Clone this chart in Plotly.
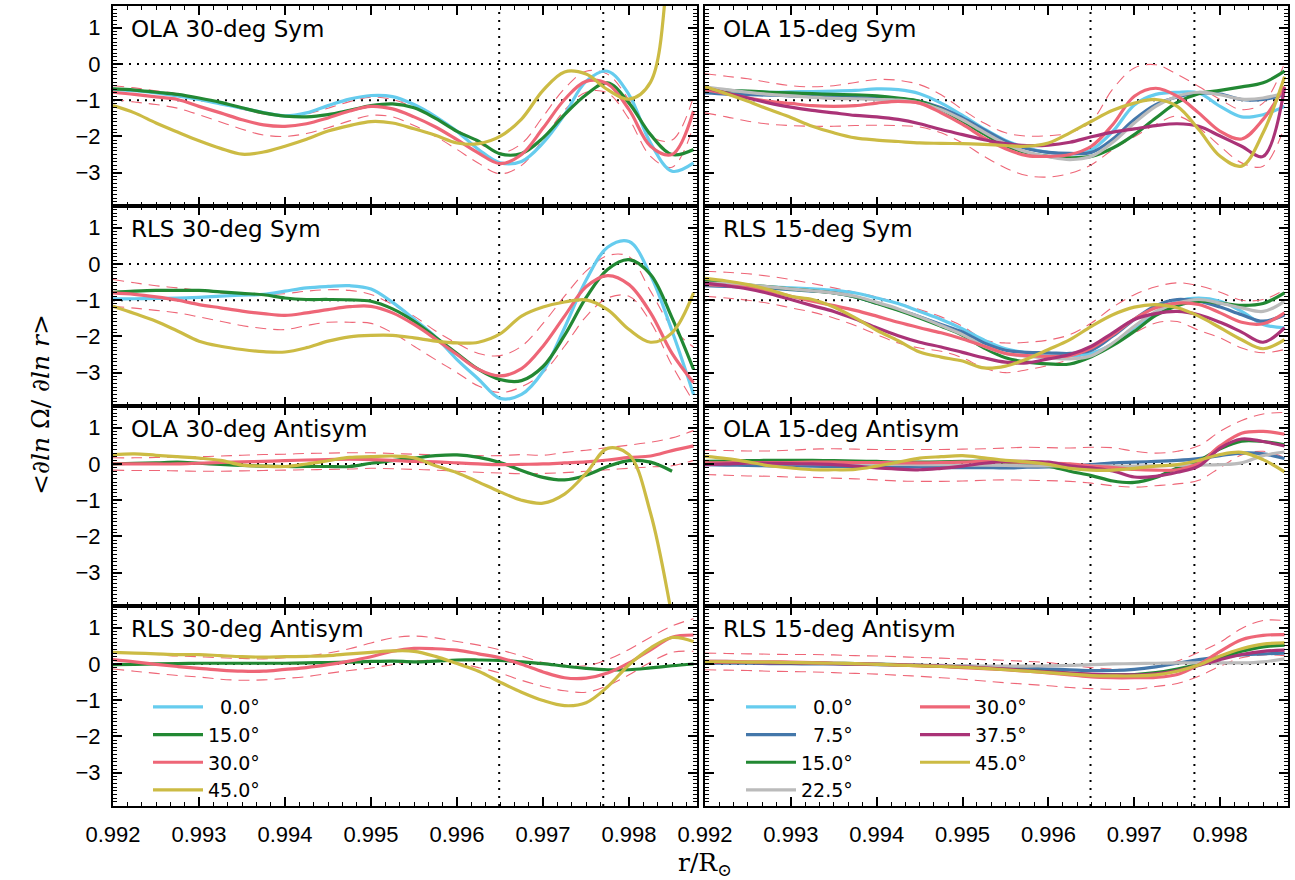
import plotly.graph_objects as go

# ---------------- radius grid (r / R_sun) ----------------
R = [0.99200, 0.99225, 0.99250, 0.99275, 0.99300, 0.99325, 0.99350, 0.99375,
     0.99400, 0.99425, 0.99450, 0.99475, 0.99500, 0.99525, 0.99550, 0.99575,
     0.99600, 0.99625, 0.99650, 0.99675, 0.99700, 0.99725, 0.99750, 0.99775,
     0.99800, 0.99825, 0.99850, 0.99875]

# ---------------- OLA 30-deg Sym ----------------
ola30s_00 = [-0.70,-0.74,-0.80,-0.88,-0.98,-1.10,-1.22,-1.34,-1.43,-1.35,-1.15,-0.97,-0.87,-0.90,-1.12,-1.45,-1.86,-2.36,-2.73,-2.69,-2.18,-1.40,-0.48,-0.20,-0.85,-2.18,-2.96,-2.73]
ola30s_15 = [-0.69,-0.72,-0.78,-0.84,-0.94,-1.06,-1.21,-1.35,-1.44,-1.46,-1.40,-1.28,-1.15,-1.10,-1.21,-1.50,-1.86,-2.13,-2.48,-2.47,-2.04,-1.40,-0.85,-0.52,-1.08,-1.95,-2.50,-2.36]
ola30s_30 = [-0.78,-0.84,-0.91,-0.98,-1.17,-1.35,-1.54,-1.68,-1.72,-1.65,-1.49,-1.30,-1.17,-1.24,-1.46,-1.74,-2.09,-2.46,-2.75,-2.50,-1.77,-0.98,-0.48,-0.55,-1.26,-2.27,-2.50,-1.30]
ola30s_45 = [-1.15,-1.35,-1.63,-1.88,-2.12,-2.33,-2.49,-2.43,-2.27,-2.08,-1.85,-1.70,-1.59,-1.63,-1.79,-1.97,-2.18,-2.20,-2.00,-1.52,-0.73,-0.22,-0.28,-0.71,-0.97,-0.50,3.50,6.00]
ola30s_hi = [-0.60,-0.66,-0.74,-0.82,-0.95,-1.10,-1.25,-1.38,-1.44,-1.38,-1.22,-1.04,-0.92,-0.98,-1.20,-1.50,-1.82,-2.18,-2.45,-2.20,-1.45,-0.68,-0.20,-0.28,-1.00,-2.00,-2.10,-0.90]
ola30s_lo = [-0.98,-1.05,-1.12,-1.22,-1.40,-1.60,-1.80,-1.96,-2.00,-1.92,-1.76,-1.57,-1.42,-1.46,-1.70,-2.00,-2.36,-2.74,-3.03,-2.80,-2.08,-1.28,-0.78,-0.80,-1.52,-2.55,-2.85,-1.70]

# ---------------- RLS 30-deg Sym ----------------
rls30s_00 = [-0.96,-0.96,-0.95,-0.94,-0.92,-0.89,-0.86,-0.84,-0.75,-0.66,-0.62,-0.60,-0.69,-1.06,-1.52,-2.01,-2.64,-3.18,-3.71,-3.60,-2.96,-1.76,-0.45,0.46,0.62,-0.31,-1.85,-3.60]
rls30s_15 = [-0.78,-0.75,-0.73,-0.73,-0.73,-0.77,-0.81,-0.85,-0.94,-0.98,-0.98,-0.99,-1.03,-1.24,-1.58,-2.02,-2.47,-2.91,-3.19,-3.22,-2.83,-1.97,-0.93,-0.15,0.12,-0.29,-1.49,-2.91]
rls30s_30 = [-0.80,-0.84,-0.91,-1.00,-1.12,-1.21,-1.30,-1.37,-1.42,-1.35,-1.26,-1.18,-1.17,-1.35,-1.67,-2.07,-2.50,-2.91,-3.09,-2.89,-2.27,-1.44,-0.63,-0.32,-0.57,-1.35,-2.47,-3.28]
rls30s_45 = [-1.17,-1.37,-1.58,-1.85,-2.13,-2.27,-2.36,-2.42,-2.43,-2.31,-2.13,-2.01,-1.97,-1.97,-2.04,-2.13,-2.18,-2.16,-1.93,-1.44,-1.19,-1.05,-0.99,-1.26,-1.81,-2.16,-1.90,-0.80]
rls30s_hi = [-0.43,-0.52,-0.60,-0.66,-0.73,-0.80,-0.84,-0.84,-0.82,-0.75,-0.71,-0.73,-0.84,-1.12,-1.44,-1.85,-2.19,-2.47,-2.53,-2.27,-1.64,-0.89,-0.20,0.23,0.20,-0.75,-1.75,-2.30]
rls30s_lo = [-1.17,-1.22,-1.28,-1.35,-1.46,-1.58,-1.70,-1.78,-1.81,-1.70,-1.61,-1.61,-1.64,-1.90,-2.27,-2.64,-3.00,-3.37,-3.55,-3.39,-3.00,-2.27,-1.45,-0.94,-0.89,-1.60,-2.80,-3.80]

# ---------------- OLA 30-deg Antisym ----------------
ola30a_15 = [0.00,0.02,0.03,0.05,0.02,-0.01,-0.04,-0.06,-0.07,-0.07,-0.07,-0.07,0.02,0.09,0.16,0.23,0.25,0.18,0.04,-0.18,-0.37,-0.44,-0.31,-0.07,0.09,0.05,-0.20,None]
ola30a_30 = [0.00,0.00,0.00,0.00,0.02,0.04,0.06,0.07,0.09,0.11,0.12,0.13,0.12,0.10,0.07,0.06,0.03,0.00,-0.02,-0.01,0.00,0.03,0.06,0.11,0.18,0.22,0.37,0.50]
ola30a_45 = [0.26,0.28,0.24,0.20,0.16,0.10,-0.03,-0.06,-0.07,0.00,0.09,0.18,0.20,0.22,0.17,-0.05,-0.24,-0.50,-0.77,-1.00,-1.08,-0.83,-0.26,0.43,0.26,-1.36,-4.20,-7.50]
ola30a_hi = [0.17,0.17,0.18,0.19,0.20,0.22,0.24,0.26,0.27,0.29,0.30,0.31,0.31,0.29,0.27,0.25,0.24,0.23,0.23,0.26,0.24,0.32,0.38,0.45,0.52,0.60,0.72,0.92]
ola30a_lo = [-0.17,-0.18,-0.18,-0.19,-0.20,-0.20,-0.19,-0.18,-0.17,-0.16,-0.15,-0.14,-0.12,-0.13,-0.15,-0.17,-0.20,-0.23,-0.25,-0.27,-0.26,-0.24,-0.20,-0.16,-0.12,-0.08,-0.05,0.10]

# ---------------- RLS 30-deg Antisym ----------------
rls30a_15 = [-0.02,-0.01,0.00,0.01,0.02,0.02,0.02,0.02,0.02,0.03,0.04,0.05,0.07,0.08,0.06,0.08,0.11,0.11,0.10,0.06,0.01,-0.06,-0.12,-0.16,-0.16,-0.11,-0.05,0.00]
rls30a_30 = [0.12,0.06,-0.01,-0.07,-0.12,-0.17,-0.20,-0.20,-0.15,-0.10,-0.02,0.08,0.20,0.35,0.43,0.42,0.38,0.28,0.17,-0.01,-0.22,-0.38,-0.39,-0.25,0.03,0.39,0.74,0.80]
rls30a_45 = [0.32,0.30,0.28,0.26,0.26,0.23,0.20,0.19,0.20,0.21,0.23,0.28,0.32,0.36,0.35,0.21,0.01,-0.20,-0.50,-0.78,-1.01,-1.15,-1.07,-0.63,-0.02,0.44,0.73,0.62]
rls30a_hi = [0.32,0.30,0.26,0.22,0.20,0.17,0.15,0.14,0.17,0.22,0.30,0.42,0.58,0.72,0.77,0.72,0.62,0.52,0.39,0.22,0.04,-0.04,-0.05,0.12,0.40,0.74,1.05,1.25]
rls30a_lo = [-0.14,-0.20,-0.26,-0.32,-0.36,-0.42,-0.45,-0.44,-0.40,-0.35,-0.26,-0.18,-0.11,-0.02,0.08,0.10,0.03,-0.10,-0.25,-0.45,-0.62,-0.74,-0.78,-0.60,-0.30,0.05,0.32,0.35]

# ---------------- OLA 15-deg Sym ----------------
ola15s_00 = [-0.69,-0.73,-0.76,-0.78,-0.77,-0.76,-0.75,-0.73,-0.69,-0.71,-0.82,-1.08,-1.42,-1.79,-2.11,-2.32,-2.44,-2.49,-2.37,-1.86,-1.13,-0.84,-0.78,-0.80,-1.17,-1.46,-1.40,-1.17]
ola15s_07 = [-0.80,-0.83,-0.85,-0.86,-0.88,-0.90,-0.92,-0.93,-0.94,-0.96,-1.03,-1.21,-1.49,-1.81,-2.13,-2.34,-2.44,-2.47,-2.44,-2.07,-1.53,-1.12,-0.91,-0.80,-0.83,-0.98,-0.98,-0.85]
ola15s_15 = [-0.71,-0.73,-0.75,-0.78,-0.80,-0.82,-0.84,-0.85,-0.88,-0.94,-1.03,-1.26,-1.58,-1.93,-2.25,-2.45,-2.55,-2.59,-2.55,-2.32,-1.95,-1.49,-1.06,-0.82,-0.73,-0.63,-0.52,-0.20]
ola15s_22 = [-0.63,-0.71,-0.78,-0.84,-0.88,-0.92,-0.95,-0.96,-0.98,-1.00,-1.08,-1.26,-1.54,-1.88,-2.20,-2.43,-2.56,-2.64,-2.55,-2.16,-1.63,-1.17,-0.89,-0.78,-0.85,-0.97,-0.94,-0.80]
ola15s_30 = [-0.71,-0.82,-0.94,-1.03,-1.09,-1.15,-1.17,-1.15,-1.08,-1.03,-1.08,-1.35,-1.67,-2.04,-2.34,-2.53,-2.55,-2.50,-2.27,-1.67,-0.89,-0.67,-0.89,-1.35,-1.86,-2.07,-1.53,-0.62]
ola15s_37 = [-0.66,-0.80,-0.94,-1.08,-1.19,-1.28,-1.35,-1.42,-1.46,-1.53,-1.65,-1.81,-1.95,-2.09,-2.20,-2.25,-2.24,-2.16,-2.01,-1.88,-1.79,-1.70,-1.65,-1.72,-1.99,-2.27,-2.55,-0.65]
ola15s_45 = [-0.63,-0.82,-1.03,-1.26,-1.48,-1.72,-1.90,-2.04,-2.10,-2.14,-2.18,-2.19,-2.20,-2.22,-2.25,-2.27,-2.18,-1.90,-1.58,-1.28,-1.08,-0.98,-1.17,-1.81,-2.55,-2.82,-1.90,-0.35]
ola15s_hi = [-0.27,-0.34,-0.41,-0.51,-0.60,-0.63,-0.60,-0.51,-0.43,-0.45,-0.57,-0.85,-1.26,-1.63,-1.90,-1.99,-1.98,-1.90,-1.58,-0.69,-0.11,-0.02,-0.29,-0.62,-0.98,-1.26,-1.08,0.03]
ola15s_lo = [-1.35,-1.46,-1.58,-1.66,-1.70,-1.72,-1.72,-1.70,-1.69,-1.70,-1.74,-1.90,-2.18,-2.55,-2.87,-3.08,-3.12,-3.02,-2.78,-2.36,-2.01,-1.67,-1.44,-1.76,-2.27,-2.73,-2.82,-1.72]

# ---------------- RLS 15-deg Sym ----------------
rls15s_00 = [-0.57,-0.59,-0.61,-0.63,-0.66,-0.69,-0.73,-0.80,-0.94,-1.09,-1.31,-1.53,-1.79,-2.10,-2.34,-2.45,-2.50,-2.53,-2.47,-2.20,-1.76,-1.35,-1.03,-0.94,-1.03,-1.31,-1.67,-1.76]
rls15s_07 = [-0.60,-0.62,-0.63,-0.67,-0.71,-0.75,-0.80,-0.91,-1.08,-1.26,-1.46,-1.67,-1.88,-2.18,-2.38,-2.44,-2.45,-2.47,-2.38,-1.99,-1.53,-1.15,-0.98,-1.03,-1.19,-1.40,-1.58,-1.40]
rls15s_15 = [-0.48,-0.52,-0.58,-0.63,-0.69,-0.74,-0.80,-0.91,-1.09,-1.28,-1.49,-1.72,-1.97,-2.32,-2.59,-2.71,-2.76,-2.76,-2.56,-2.25,-1.86,-1.42,-1.15,-1.03,-1.08,-1.14,-1.09,-0.80]
rls15s_22 = [-0.53,-0.54,-0.58,-0.63,-0.69,-0.74,-0.80,-0.89,-1.06,-1.24,-1.46,-1.70,-1.95,-2.27,-2.47,-2.55,-2.59,-2.62,-2.53,-2.18,-1.72,-1.31,-1.08,-0.98,-1.08,-1.21,-1.31,-1.03]
rls15s_30 = [-0.57,-0.60,-0.66,-0.75,-0.89,-1.03,-1.15,-1.28,-1.44,-1.61,-1.76,-1.90,-2.07,-2.27,-2.47,-2.53,-2.55,-2.53,-2.32,-1.95,-1.52,-1.21,-1.08,-1.12,-1.35,-1.61,-1.65,-1.35]
rls15s_37 = [-0.53,-0.60,-0.69,-0.82,-0.98,-1.15,-1.31,-1.52,-1.76,-1.98,-2.16,-2.29,-2.44,-2.59,-2.71,-2.73,-2.62,-2.50,-2.27,-1.90,-1.53,-1.37,-1.31,-1.40,-1.61,-1.88,-2.16,-1.76]
rls15s_45 = [-0.40,-0.47,-0.57,-0.71,-0.89,-0.98,-1.19,-1.49,-1.83,-2.12,-2.43,-2.57,-2.68,-2.87,-2.82,-2.62,-2.36,-2.09,-1.72,-1.40,-1.19,-1.12,-1.21,-1.44,-1.76,-2.09,-2.34,-2.09]
rls15s_hi = [-0.20,-0.23,-0.27,-0.34,-0.43,-0.54,-0.66,-0.78,-0.91,-1.08,-1.26,-1.46,-1.72,-2.09,-2.18,-2.16,-2.10,-1.95,-1.63,-1.19,-0.85,-0.63,-0.52,-0.60,-0.78,-1.00,-0.98,-0.71]
rls15s_lo = [-0.89,-0.94,-1.00,-1.09,-1.21,-1.33,-1.49,-1.70,-1.95,-2.18,-2.32,-2.41,-2.59,-2.87,-3.00,-2.92,-2.80,-2.64,-2.45,-2.20,-1.90,-1.63,-1.59,-1.83,-2.04,-2.32,-2.45,-2.36]

# ---------------- OLA 15-deg Antisym ----------------
ola15a_07 = [-0.02,-0.03,-0.04,-0.05,-0.05,-0.06,-0.07,-0.07,-0.08,-0.08,-0.08,-0.10,-0.10,-0.10,-0.11,-0.09,-0.08,-0.06,-0.02,0.03,0.05,0.07,0.10,0.15,0.23,0.30,0.28,0.15]
ola15a_15 = [0.07,0.08,0.09,0.10,0.10,0.10,0.09,0.08,0.07,0.05,0.05,0.06,0.07,0.08,0.05,0.01,-0.06,-0.20,-0.32,-0.47,-0.51,-0.37,-0.11,0.09,0.42,0.63,0.62,0.53]
ola15a_22 = [0.02,0.02,0.02,0.01,0.01,0.01,0.00,0.00,-0.01,-0.01,-0.02,-0.02,-0.03,-0.03,-0.04,-0.05,-0.05,-0.05,-0.05,-0.06,-0.06,-0.05,-0.04,-0.03,-0.02,0.03,0.23,0.33]
ola15a_30 = [0.03,0.03,0.04,0.04,0.04,0.05,0.05,0.04,0.04,0.03,0.03,0.04,0.05,0.07,0.06,0.04,0.02,0.00,-0.06,-0.10,-0.15,-0.17,-0.16,0.02,0.50,0.85,0.90,0.82]
ola15a_37 = [-0.02,0.00,0.02,0.02,0.01,0.00,-0.02,-0.06,-0.11,-0.14,-0.16,-0.12,-0.06,0.02,0.07,0.07,0.05,-0.05,-0.11,-0.19,-0.36,-0.34,-0.23,-0.06,0.44,0.69,0.62,0.50]
ola15a_45 = [0.21,0.15,0.06,-0.05,-0.11,-0.16,-0.16,-0.15,-0.06,0.05,0.16,0.20,0.23,0.17,0.10,0.06,-0.01,-0.12,-0.17,-0.17,-0.12,-0.06,-0.02,0.10,0.26,0.32,0.12,-0.22]
ola15a_hi = [0.38,0.37,0.36,0.36,0.38,0.41,0.42,0.41,0.40,0.40,0.40,0.40,0.41,0.42,0.44,0.46,0.45,0.44,0.46,0.45,0.35,0.30,0.35,0.50,0.90,1.20,1.38,1.42]
ola15a_lo = [-0.29,-0.31,-0.33,-0.34,-0.36,-0.37,-0.39,-0.41,-0.44,-0.47,-0.48,-0.48,-0.47,-0.45,-0.44,-0.45,-0.46,-0.48,-0.53,-0.60,-0.64,-0.60,-0.55,-0.45,-0.10,0.25,0.35,0.18]

# ---------------- RLS 15-deg Antisym ----------------
rls15a_07 = [0.02,0.02,0.02,0.01,0.01,0.00,0.00,-0.01,-0.02,-0.03,-0.04,-0.05,-0.06,-0.08,-0.10,-0.12,-0.14,-0.16,-0.18,-0.18,-0.15,-0.08,0.02,0.12,0.20,0.25,0.28,0.30]
rls15a_15 = [0.05,0.05,0.04,0.04,0.03,0.03,0.02,0.01,0.00,-0.02,-0.04,-0.06,-0.08,-0.11,-0.14,-0.18,-0.22,-0.26,-0.29,-0.30,-0.29,-0.24,-0.14,0.00,0.18,0.35,0.47,0.52]
rls15a_22 = [0.08,0.07,0.06,0.05,0.04,0.03,0.02,0.01,0.00,-0.02,-0.03,-0.04,-0.05,-0.06,-0.06,-0.06,-0.05,-0.04,-0.02,0.00,0.01,0.02,0.03,0.03,0.03,0.03,0.06,0.14]
rls15a_30 = [0.07,0.07,0.06,0.06,0.05,0.04,0.02,0.00,-0.01,-0.03,-0.05,-0.07,-0.10,-0.13,-0.16,-0.20,-0.25,-0.30,-0.36,-0.38,-0.38,-0.37,-0.29,-0.02,0.35,0.67,0.79,0.81]
rls15a_37 = [0.04,0.04,0.04,0.03,0.03,0.02,0.01,0.00,-0.01,-0.02,-0.04,-0.06,-0.08,-0.11,-0.14,-0.18,-0.22,-0.25,-0.28,-0.30,-0.30,-0.27,-0.18,-0.04,0.12,0.26,0.35,0.38]
rls15a_45 = [0.06,0.06,0.05,0.05,0.04,0.03,0.02,0.01,-0.01,-0.03,-0.05,-0.07,-0.09,-0.12,-0.16,-0.20,-0.24,-0.28,-0.32,-0.33,-0.33,-0.30,-0.20,-0.03,0.22,0.42,0.55,0.58]
rls15a_hi = [0.30,0.29,0.28,0.27,0.26,0.26,0.25,0.23,0.22,0.20,0.18,0.16,0.14,0.12,0.10,0.07,0.04,-0.04,-0.10,-0.14,-0.15,-0.08,0.08,0.32,0.60,0.98,1.20,1.20]
rls15a_lo = [-0.16,-0.17,-0.18,-0.20,-0.21,-0.22,-0.24,-0.26,-0.28,-0.31,-0.34,-0.38,-0.42,-0.47,-0.52,-0.56,-0.60,-0.65,-0.68,-0.70,-0.70,-0.62,-0.54,-0.34,-0.06,0.17,0.25,0.23]

# ---------------- labels / reference lines ----------------
ANGLES = ["0.0", "7.5", "15.0", "22.5", "30.0", "37.5", "45.0"]
COLORS = {"0.0": "#66CCEE", "7.5": "#4477AA", "15.0": "#228833", "22.5": "#BBBBBB",
          "30.0": "#EE6677", "37.5": "#AA3377", "45.0": "#CCBB44"}
VLINES = [0.99649, 0.99770]
XTICKS = [0.992, 0.993, 0.994, 0.995, 0.996, 0.997, 0.998]
YTICKS = [-3, -2, -1, 0, 1]

panels = [
    dict(label="OLA 30-deg Sym", sym=True, leg=True,
         curves=[("0.0", ola30s_00), ("15.0", ola30s_15), ("30.0", ola30s_30), ("45.0", ola30s_45)],
         hi=ola30s_hi, lo=ola30s_lo),
    dict(label="OLA 15-deg Sym", sym=True, leg=True,
         curves=[("0.0", ola15s_00), ("7.5", ola15s_07), ("15.0", ola15s_15), ("22.5", ola15s_22),
                 ("30.0", ola15s_30), ("37.5", ola15s_37), ("45.0", ola15s_45)],
         hi=ola15s_hi, lo=ola15s_lo),
    dict(label="RLS 30-deg Sym", sym=True, leg=False,
         curves=[("0.0", rls30s_00), ("15.0", rls30s_15), ("30.0", rls30s_30), ("45.0", rls30s_45)],
         hi=rls30s_hi, lo=rls30s_lo),
    dict(label="RLS 15-deg Sym", sym=True, leg=False,
         curves=[("0.0", rls15s_00), ("7.5", rls15s_07), ("15.0", rls15s_15), ("22.5", rls15s_22),
                 ("30.0", rls15s_30), ("37.5", rls15s_37), ("45.0", rls15s_45)],
         hi=rls15s_hi, lo=rls15s_lo),
    dict(label="OLA 30-deg Antisym", sym=False, leg=False,
         curves=[("15.0", ola30a_15), ("30.0", ola30a_30), ("45.0", ola30a_45)],
         hi=ola30a_hi, lo=ola30a_lo),
    dict(label="OLA 15-deg Antisym", sym=False, leg=False,
         curves=[("7.5", ola15a_07), ("15.0", ola15a_15), ("22.5", ola15a_22),
                 ("30.0", ola15a_30), ("37.5", ola15a_37), ("45.0", ola15a_45)],
         hi=ola15a_hi, lo=ola15a_lo),
    dict(label="RLS 30-deg Antisym", sym=False, leg=False,
         curves=[("15.0", rls30a_15), ("30.0", rls30a_30), ("45.0", rls30a_45)],
         hi=rls30a_hi, lo=rls30a_lo),
    dict(label="RLS 15-deg Antisym", sym=False, leg=False,
         curves=[("7.5", rls15a_07), ("15.0", rls15a_15), ("22.5", rls15a_22),
                 ("30.0", rls15a_30), ("37.5", rls15a_37), ("45.0", rls15a_45)],
         hi=rls15a_hi, lo=rls15a_lo),
]

# ---------------- layout geometry ----------------
W, H = 1295, 880
COLDOM = [[113 / W, 697 / W], [705 / W, 1288 / W]]
ROWDOM = [[1 - 206 / H, 1 - 6 / H], [1 - 406 / H, 1 - 206 / H],
          [1 - 606 / H, 1 - 406 / H], [1 - 806 / H, 1 - 606 / H]]

TICKFONT = dict(family="Liberation Sans, Arial, sans-serif", size=22, color="black")
LABFONT = dict(family="DejaVu Sans, sans-serif", size=23, color="black")
LEGFONT = dict(family="DejaVu Sans, sans-serif", size=19, color="black")


def legend_name(a):
    return ("\u2007" + a + "°") if len(a) == 3 else (a + "°")


fig = go.Figure()
layout = dict(width=W, height=H, margin=dict(l=0, r=0, t=0, b=0, autoexpand=False),
              paper_bgcolor="white", plot_bgcolor="white", showlegend=True)
shapes, annotations = [], []

for k, p in enumerate(panels):
    n = k + 1
    row, col = k // 2, k % 2
    xa, ya = ("x" if n == 1 else f"x{n}"), ("y" if n == 1 else f"y{n}")
    xname, yname = ("xaxis" if n == 1 else f"xaxis{n}"), ("yaxis" if n == 1 else f"yaxis{n}")

    # error bounds (30 deg)
    for b in (p["hi"], p["lo"]):
        fig.add_trace(go.Scatter(x=R, y=b, mode="lines", xaxis=xa, yaxis=ya, showlegend=False,
                                 line=dict(color=COLORS["30.0"], width=1.1, dash="11px,7px",
                                           shape="spline", smoothing=1.0),
                                 hoverinfo="skip"))
    for ang, vals in p["curves"]:
        if p["leg"]:
            if col == 0:
                lg = "legend"
            else:
                lg = "legend2" if ANGLES.index(ang) < 4 else "legend3"
            show = True
        else:
            lg, show = "legend", False
        fig.add_trace(go.Scatter(x=R, y=vals, mode="lines", xaxis=xa, yaxis=ya,
                                 name=legend_name(ang), showlegend=show, legend=lg,
                                 line=dict(color=COLORS[ang], width=3.2, shape="spline", smoothing=1.0)))

    layout[xname] = dict(domain=COLDOM[col], anchor=ya, range=[0.992, 0.99879],
                         showline=True, linecolor="black", linewidth=2, mirror="allticks",
                         ticks="inside", ticklen=9, tickwidth=1.5, tickcolor="black",
                         tickmode="array", tickvals=XTICKS, ticktext=[f"{t:.3f}" for t in XTICKS],
                         showticklabels=(row == 3), tickfont=TICKFONT, ticklabelstandoff=8,
                         showgrid=False, zeroline=False, automargin=False,
                         minor=dict(ticks="inside", ticklen=4, tickwidth=1, tickcolor="black",
                                    tick0=0.992, dtick=0.001 / 6, showgrid=False))
    layout[yname] = dict(domain=ROWDOM[row], anchor=xa, range=[-3.92, 1.6],
                         showline=True, linecolor="black", linewidth=2, mirror="allticks",
                         ticks="inside", ticklen=9, tickwidth=1.5, tickcolor="black",
                         tickmode="array", tickvals=YTICKS,
                         showticklabels=(col == 0), tickfont=TICKFONT, ticklabelstandoff=6,
                         showgrid=False, zeroline=False, automargin=False,
                         minor=dict(ticks="inside", ticklen=4, tickwidth=1, tickcolor="black",
                                    tick0=0, dtick=0.1, showgrid=False))

    for xv in VLINES:
        shapes.append(dict(type="line", xref=xa, yref=f"{ya} domain", x0=xv, x1=xv, y0=0, y1=1,
                           line=dict(color="black", width=2, dash="2px,6px"), layer="below"))
    for yv in ([0, -1] if p["sym"] else [0]):
        shapes.append(dict(type="line", xref=f"{xa} domain", yref=ya, x0=0, x1=1, y0=yv, y1=yv,
                           line=dict(color="black", width=2, dash="2px,6px"), layer="below"))

    annotations.append(dict(text=p["label"], xref=f"{xa} domain", yref=f"{ya} domain",
                            x=0.027, y=0.885, xanchor="left", yanchor="middle",
                            showarrow=False, font=LABFONT))

annotations.append(dict(text="&lt;<i>∂ln</i> Ω/ <i>∂ln r</i>&gt;", xref="paper", yref="paper",
                        x=40 / W, y=1 - 405 / H, textangle=-90, showarrow=False,
                        xanchor="center", yanchor="middle",
                        font=dict(family="DejaVu Serif, serif", size=25, color="black")))
annotations.append(dict(text="r/R<sub>⊙</sub>", xref="paper", yref="paper",
                        x=705 / W, y=1 - 864 / H, showarrow=False,
                        xanchor="center", yanchor="middle",
                        font=dict(family="DejaVu Serif, serif", size=25, color="black")))

legstyle = dict(bgcolor="rgba(0,0,0,0)", borderwidth=0, font=LEGFONT, itemwidth=50,
                tracegroupgap=0, xanchor="left", yanchor="top", orientation="v")
layout["legend"] = dict(x=148 / W, y=1 - 688 / H, **legstyle)
layout["legend2"] = dict(x=741 / W, y=1 - 688 / H, **legstyle)
layout["legend3"] = dict(x=915 / W, y=1 - 688 / H, **legstyle)
layout["shapes"] = shapes
layout["annotations"] = annotations

fig.update_layout(**layout)
fig.write_html("out.html")
